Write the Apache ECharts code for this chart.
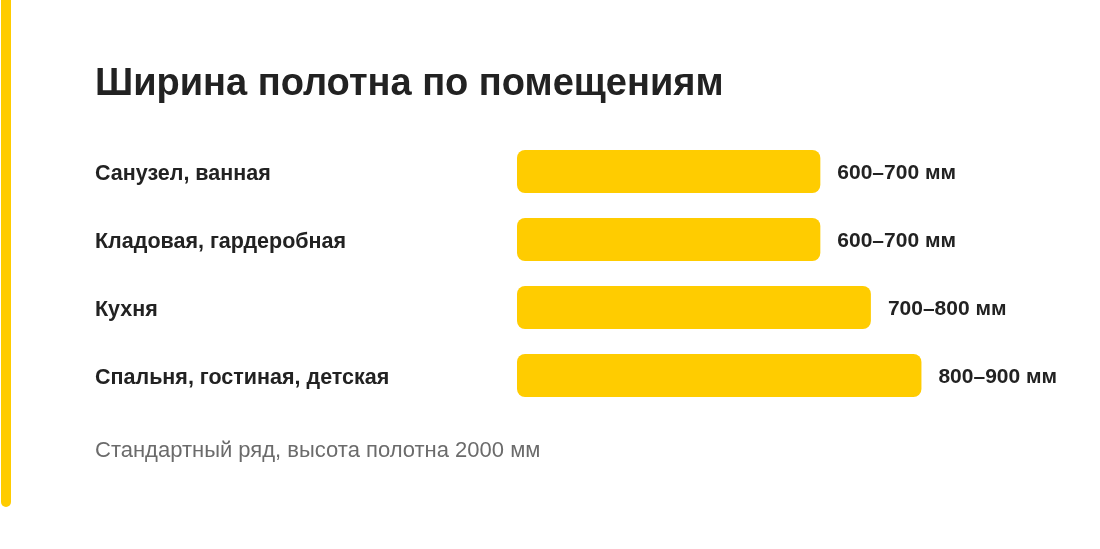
<!DOCTYPE html>
<html>
<head>
<meta charset="utf-8">
<style>
html,body{margin:0;padding:0;background:#fff;}
#chart{width:1100px;height:549px;}
</style>
<script src="https://cdn.jsdelivr.net/npm/echarts@6/dist/echarts.min.js"></script>
</head>
<body>
<div id="chart"></div>
<script>
const titleText = 'Ширина полотна по помещениям';
const footnote = 'Стандартный ряд, высота полотна 2000 мм';
const rooms = ['Санузел, ванная', 'Кладовая, гардеробная', 'Кухня', 'Спальня, гостиная, детская'];
const widthFrom = [600, 600, 700, 800];
const widthTo = [700, 700, 800, 900];
const unit = 'мм';

const FONT = '"Liberation Sans", Arial, Helvetica, sans-serif';
const chart = echarts.init(document.getElementById('chart'), null, {renderer: 'canvas'});
chart.setOption({
  backgroundColor: '#ffffff',
  animation: false,
  graphic: [
    {type: 'rect', left: 1, top: -10, shape: {width: 10, height: 517, r: 5}, style: {fill: '#FFCC00'}},
    {type: 'text', x: 95, y: 85, style: {text: titleText, font: 'bold 38px ' + FONT, fill: '#222222', verticalAlign: 'middle'}},
    {type: 'text', x: 95, y: 451, style: {text: footnote, font: '22px ' + FONT, fill: '#6b6b6b', verticalAlign: 'middle'}}
  ],
  grid: {left: 517, top: 137.5, height: 272, width: 455, containLabel: false},
  xAxis: {type: 'value', min: 100, max: 1000, show: false},
  yAxis: {
    type: 'category', data: rooms, inverse: true,
    axisLine: {show: false}, axisTick: {show: false}, splitLine: {show: false},
    axisLabel: {
      align: 'left', margin: 422,
      formatter: v => '{a|' + v + '}',
      rich: {a: {padding: [6, 0, 0, 0], fontFamily: FONT, fontSize: 21.5, fontWeight: 'bold', color: '#222222'}}
    }
  },
  series: [{
    type: 'bar', data: widthTo, barWidth: 43,
    itemStyle: {color: '#FFCC00', borderRadius: 8},
    label: {
      show: true, position: 'right', distance: 17, offset: [0, 2],
      fontFamily: FONT, fontSize: 21, fontWeight: 'bold', color: '#222222',
      formatter: p => widthFrom[p.dataIndex] + '–' + widthTo[p.dataIndex] + ' ' + unit
    }
  }]
});
</script>
</body>
</html>
